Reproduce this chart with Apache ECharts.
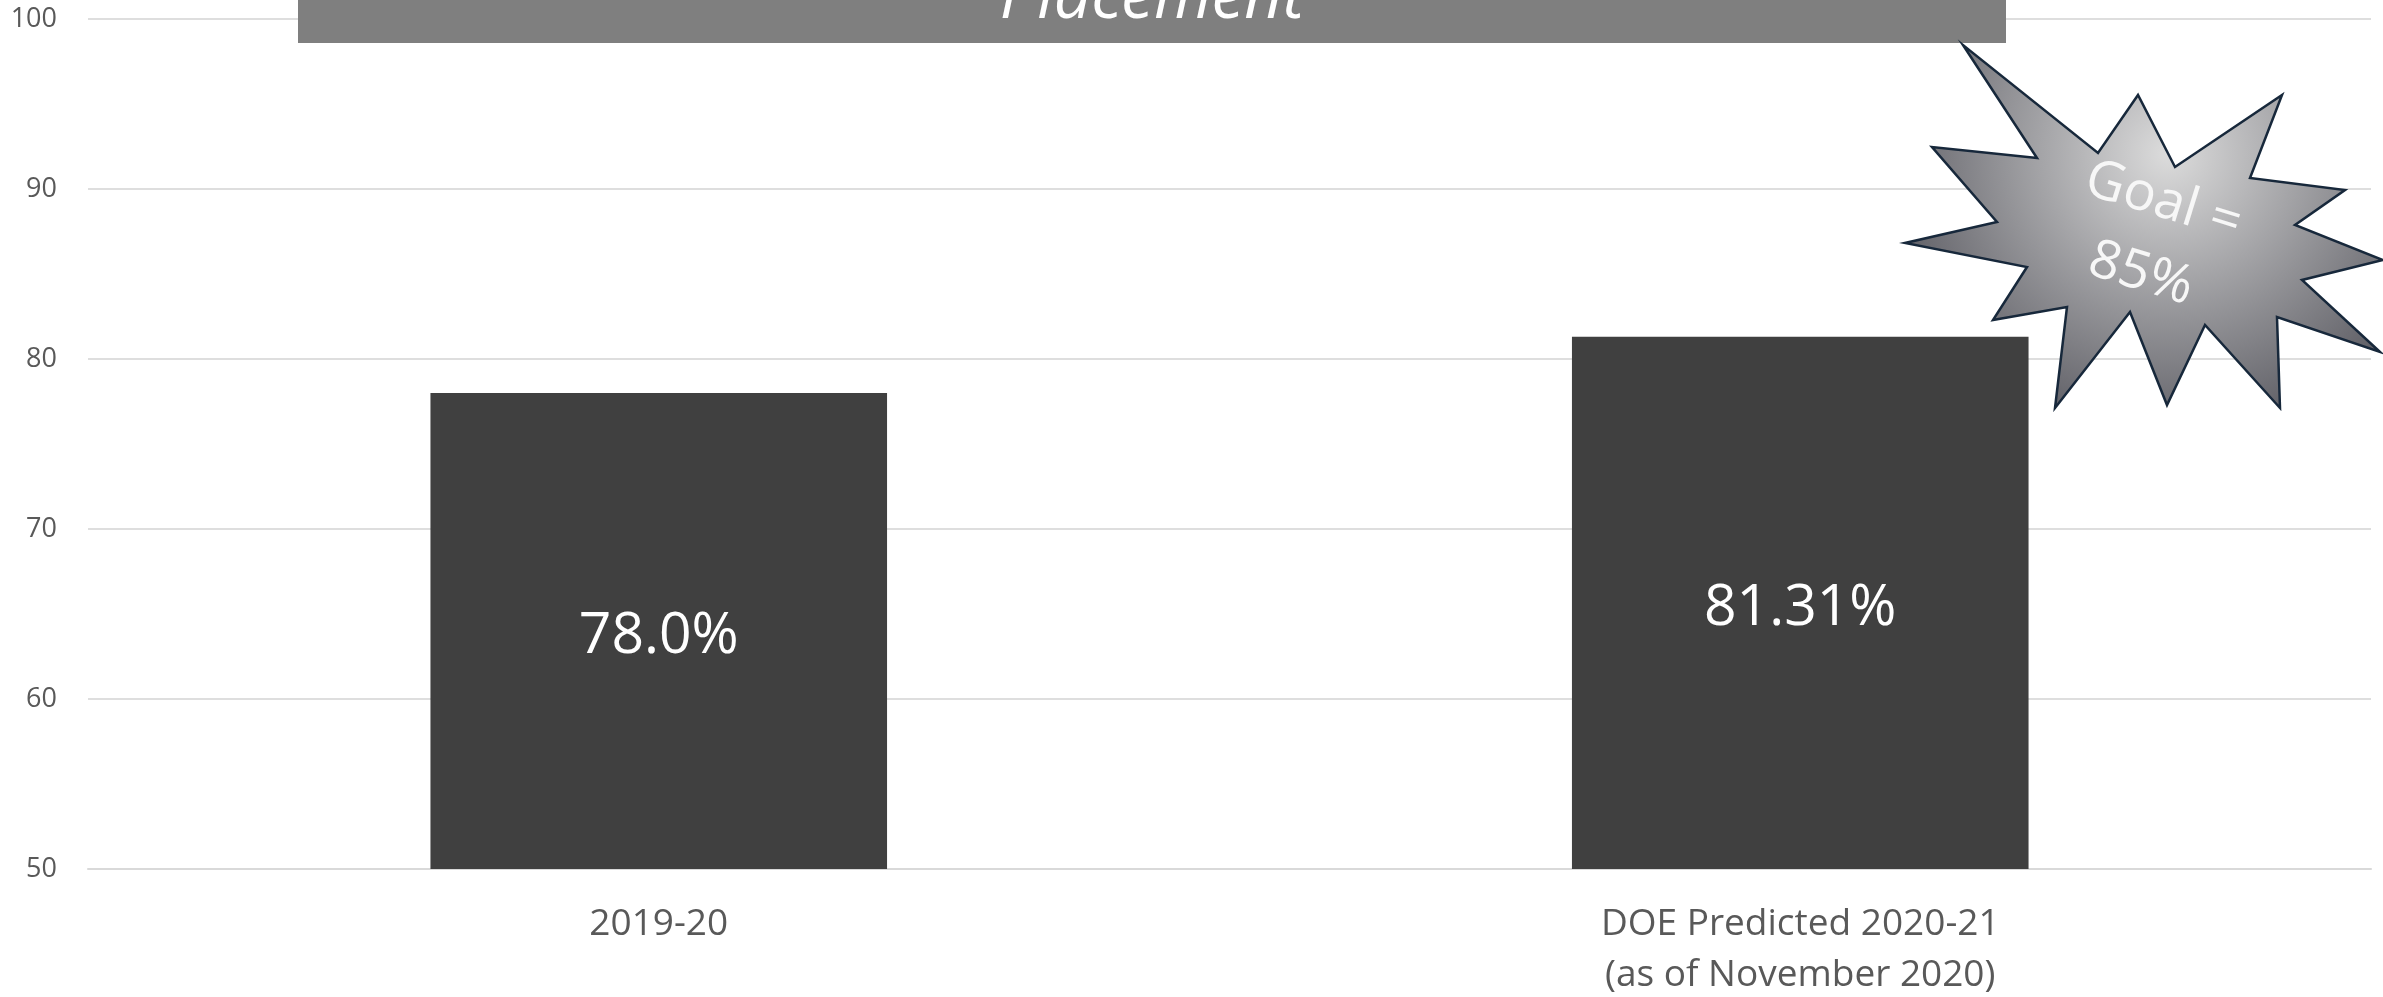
<!DOCTYPE html>
<html>
<head>
<meta charset="utf-8">
<script src="https://cdn.jsdelivr.net/npm/echarts@6/dist/echarts.min.js"></script>
<style>
  html, body { margin: 0; padding: 0; background: #ffffff; }
  #chart { width: 2383px; height: 997px; }
</style>
</head>
<body>
<div id="chart"></div>
<script>
// ---- data ----
const categories = ['2019-20', 'DOE Predicted 2020-21\n(as of November 2020)'];
const values = [78.0, 81.31];
const valueLabels = ['78.0%', '81.31%'];
const yTicks = { min: 50, max: 100, interval: 10 };
const bannerText = 'Placement';
const goalText = 'Goal =\n85%';

const FONT = '"Open Sans", "Noto Sans", sans-serif';

const chart = echarts.init(document.getElementById('chart'), null, { renderer: 'canvas' });

const starPoints = [
  [1963, 45], [2037, 158], [1932, 147], [1997, 222], [1905, 243],
  [2027, 267], [1993, 320], [2067, 307], [2055, 408], [2130, 312],
  [2167, 405], [2205, 325], [2280, 408], [2277, 317], [2380, 352],
  [2302, 280], [2383, 260], [2295, 225], [2345, 190], [2250, 178],
  [2282, 95], [2175, 167], [2138, 95], [2098, 153]
];

const option = {
  backgroundColor: '#ffffff',
  animation: false,
  grid: { left: 88, right: 12, top: 19, bottom: 128, outerBoundsMode: 'none', containLabel: false },
  xAxis: {
    type: 'category',
    data: categories,
    axisLine: { show: true, lineStyle: { color: '#d9d9d9', width: 2 } },
    axisTick: { show: false },
    axisLabel: {
      color: '#595959',
      fontFamily: FONT,
      fontSize: 37,
      lineHeight: 51,
      margin: 30,
      interval: 0
    }
  },
  yAxis: {
    type: 'value',
    min: yTicks.min,
    max: yTicks.max,
    interval: yTicks.interval,
    axisLine: { show: false },
    axisTick: { show: false },
    splitLine: { show: true, lineStyle: { color: '#dedede', width: 2 } },
    axisLabel: {
      color: '#595959',
      fontFamily: FONT,
      fontSize: 27,
      margin: 31
    }
  },
  series: [{
    type: 'bar',
    barWidth: '40%',
    itemStyle: { color: '#404040' },
    data: values.map((v, i) => ({
      value: v,
      label: {
        show: true,
        position: 'inside',
        offset: [0, 6],
        formatter: valueLabels[i],
        color: '#ffffff',
        fontFamily: FONT,
        fontSize: 57
      }
    }))
  }],
  graphic: [
    {
      type: 'rect',
      z: 100,
      shape: { x: 298, y: 0, width: 1708, height: 43 },
      style: { fill: '#7f7f7f' }
    },
    {
      type: 'text',
      z: 101,
      x: 1152,
      y: -1,
      style: {
        text: bannerText,
        fill: '#ffffff',
        font: 'italic 66px ' + FONT,
        align: 'center',
        verticalAlign: 'middle'
      }
    },
    {
      type: 'polygon',
      z: 102,
      shape: { points: starPoints },
      style: {
        fill: {
          type: 'radial', x: 0.55, y: 0.3, r: 0.8,
          colorStops: [
            { offset: 0, color: '#dcdcdc' },
            { offset: 1, color: '#5c5c63' }
          ]
        },
        stroke: '#17283b',
        lineWidth: 2.5
      }
    },
    {
      type: 'text',
      z: 103,
      x: 2152,
      y: 238,
      rotation: -0.30,
      style: {
        text: goalText,
        fill: '#f7f7f7',
        font: '54px ' + FONT,
        lineHeight: 76,
        align: 'center',
        verticalAlign: 'middle'
      }
    }
  ]
};

chart.setOption(option);
</script>
</body>
</html>
